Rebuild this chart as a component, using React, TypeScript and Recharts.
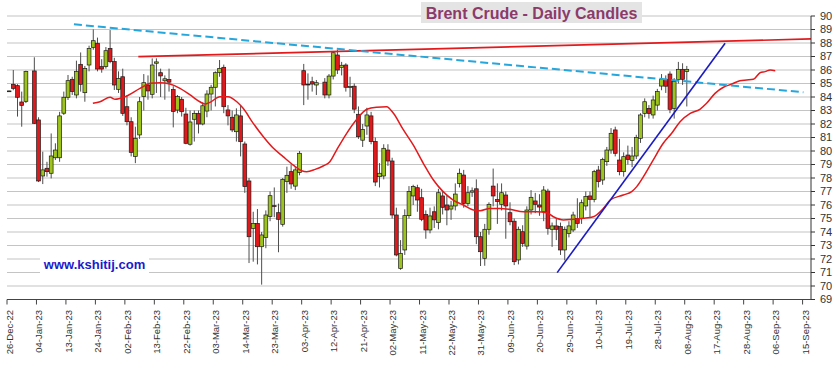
import { ComposedChart, Bar, Line, XAxis, YAxis, CartesianGrid, ReferenceLine } from 'recharts';

// tick labels, one every 7 trading days from 26-Dec-22
const dateLabels = [
    '26-Dec-22', '04-Jan-23', '13-Jan-23', '24-Jan-23', '02-Feb-23', '13-Feb-23', '22-Feb-23',
    '03-Mar-23', '14-Mar-23', '23-Mar-23', '03-Apr-23', '12-Apr-23', '21-Apr-23', '02-May-23',
    '11-May-23', '22-May-23', '31-May-23', '09-Jun-23', '20-Jun-23', '29-Jun-23', '10-Jul-23',
    '19-Jul-23', '28-Jul-23', '08-Aug-23', '17-Aug-23', '28-Aug-23', '06-Sep-23', '15-Sep-23',
];
const dateTicks = [0, 7, 14, 21, 28, 35, 42, 49, 56, 63, 70, 77, 84, 91, 98, 105, 112, 119, 126, 133, 140, 147, 154, 161, 168, 175, 182, 189];
const priceTicks = [69, 70, 71, 72, 73, 74, 75, 76, 77, 78, 79, 80, 81, 82, 83, 84, 85, 86, 87, 88, 89, 90];

// daily candles, one slot per weekday from 26-Dec-22 (null = holiday)
const opens = [
    84.45, 84.94, 84.84, 83.63, 83.68, null, 85.93, 82.3, 78.15, 78.72, 78.35, 79.5, 79.5, 82.8, 83.98, 85.31, 84.15, 86.42, 84.32, 86.37,
    87.68, 87.98, 86.25, 86.25, 87.6, 86.62, 84.57, 85.5, 83.28, 82.17, 79.6, 81.19, 84.03, 84.89, 84.2, 86.5, 85.8, 85.2, 85.3, 84.55,
    83.03, 83.83, 82.74, 80.5, 82.35, 82.79, 82.0, 82.96, 84.22, 84.72, 85.8, 86.2, 83.04, 82.5, 81.43, 82.6, 80.52, 77.78, 74.27, 74.64,
    72.91, 73.6, 75.14, 75.95, 75.43, 74.57, 77.73, 78.47, 77.4, 78.4, 85.95, 84.95, 85.13, 84.89, null, 85.1, 84.15, 85.55, 87.11, 86.2,
    86.37, 84.7, 84.8, 82.72, 80.8, 81.85, 82.6, 80.7, 78.1, 78.15, 80.07, 79.26, 75.26, 71.3, 72.67, 75.21, 76.67, 77.28, 76.54, 75.3,
    74.15, 75.5, 74.7, 76.67, 76.0, 75.7, 75.93, 77.6, 78.22, 76.12, 76.95, 77.2, 73.65, 72.05, 74.2, 77.4, 76.4, 76.05, 76.74, 75.43,
    74.8, 71.93, 74.02, 72.96, 75.63, 76.3, 76.0, 75.5, 77.03, 74.2, 74.45, 74.4, 72.67, 73.9, 74.15, 75.01, 75.0, 75.93, 76.67, 76.42,
    78.59, 77.85, 79.21, 80.07, 81.56, 79.33, 78.47, 79.7, 79.3, 79.63, 80.94, 82.79, 83.16, 82.67, 83.4, 84.81, 85.3, 85.7, 83.16, 85.3,
    86.05, 85.9,
];
const highs = [
    84.47, 86.0, 84.95, 84.4, 85.95, null, 86.94, 82.5, 79.95, 79.2, 81.3, 80.57, 82.9, 84.4, 85.63, 85.5, 86.69, 87.3, 86.3, 87.8,
    89.01, 88.4, 86.8, 87.7, 88.96, 86.9, 85.9, 86.1, 84.15, 82.5, 81.8, 84.0, 85.7, 85.6, 86.86, 86.86, 86.1, 85.6, 86.1, 84.8,
    84.15, 84.0, 83.2, 83.0, 83.0, 83.0, 83.6, 84.5, 84.9, 85.9, 86.74, 86.4, 83.4, 83.0, 83.16, 83.4, 80.7, 78.0, 75.5, 75.7,
    74.0, 75.6, 77.0, 77.3, 76.1, 78.0, 78.84, 79.0, 78.8, 80.0, 86.45, 85.75, 85.5, 85.26, null, 85.4, 85.7, 87.4, 87.5, 86.6,
    86.5, 85.5, 85.0, 83.3, 82.0, 83.2, 82.9, 81.0, 79.1, 80.5, 80.5, 79.5, 75.8, 73.4, 75.68, 77.4, 77.5, 77.5, 77.2, 75.6,
    75.8, 75.9, 77.2, 77.0, 76.7, 76.3, 77.6, 78.7, 78.6, 77.4, 77.3, 77.9, 74.0, 74.6, 76.2, 78.7, 77.6, 77.6, 77.0, 76.2,
    75.0, 74.4, 74.5, 75.9, 77.1, 76.9, 76.8, 77.4, 77.2, 74.7, 75.0, 74.7, 74.4, 74.8, 75.5, 76.5, 76.4, 77.0, 77.0, 78.6,
    78.9, 79.5, 80.3, 81.7, 81.8, 80.9, 79.9, 80.4, 80.3, 81.2, 82.8, 83.9, 83.4, 84.1, 84.6, 85.7, 85.6, 85.9, 85.4, 86.6,
    86.5, 86.3,
];
const lows = [
    84.43, 84.5, 82.55, 81.8, 83.55, null, 82.0, 77.7, 77.55, 78.1, 77.97, 79.33, 79.2, 82.67, 83.78, 84.15, 83.9, 84.4, 83.65, 85.9,
    87.5, 85.9, 85.8, 86.1, 86.5, 84.52, 84.3, 82.6, 81.9, 79.6, 79.1, 80.9, 83.0, 83.8, 83.9, 84.3, 84.0, 83.8, 84.4, 81.75,
    82.8, 82.55, 80.5, 80.4, 80.7, 81.3, 81.9, 82.5, 83.0, 83.3, 85.5, 82.8, 81.9, 81.4, 80.7, 79.6, 76.9, 71.7, 71.8, 71.6,
    70.1, 72.8, 74.8, 75.1, 72.5, 74.4, 76.9, 77.2, 77.1, 78.2, 83.4, 83.8, 84.4, 84.15, null, 83.9, 83.9, 85.3, 85.7, 85.6,
    84.4, 84.0, 82.8, 80.9, 80.3, 81.2, 80.5, 77.4, 77.3, 77.9, 78.9, 75.0, 72.2, 71.2, 72.3, 75.0, 76.0, 75.5, 74.8, 73.5,
    73.9, 74.3, 74.2, 75.3, 74.5, 74.9, 75.6, 77.3, 75.8, 75.9, 76.6, 73.1, 71.48, 71.5, 73.8, 75.9, 74.6, 75.6, 73.5, 74.5,
    71.55, 71.6, 72.9, 72.7, 75.3, 75.4, 75.2, 74.8, 73.8, 72.9, 73.4, 72.3, 71.9, 73.6, 74.0, 74.3, 74.6, 75.6, 75.1, 76.2,
    77.3, 77.5, 78.9, 79.8, 79.6, 78.2, 78.1, 79.0, 78.8, 79.4, 80.6, 82.5, 82.4, 82.4, 83.0, 84.5, 84.3, 82.8, 82.4, 85.0,
    84.9, 83.3,
];
const closes = [
    84.45, 84.64, 83.98, 83.38, 85.88, null, 82.05, 77.78, 78.6, 78.47, 79.63, 80.07, 82.6, 83.98, 85.21, 84.4, 85.88, 84.94, 86.12, 87.6,
    88.17, 86.07, 86.07, 87.43, 86.62, 84.89, 85.38, 82.79, 82.17, 79.9, 80.94, 83.65, 85.06, 84.45, 86.37, 86.6, 85.56, 85.35, 85.1, 82.93,
    84.03, 82.91, 80.57, 82.15, 82.79, 82.0, 83.35, 84.22, 84.72, 85.8, 86.12, 83.28, 82.6, 81.56, 82.67, 80.69, 77.36, 73.65, 74.64, 72.91,
    73.78, 75.26, 76.69, 75.91, 74.94, 77.9, 78.2, 77.56, 78.6, 79.83, 84.89, 84.94, 84.96, 85.06, null, 84.15, 85.55, 87.28, 86.0, 86.35,
    84.72, 84.77, 83.1, 81.06, 81.6, 82.67, 80.7, 77.7, 78.35, 80.2, 79.26, 75.26, 72.3, 72.42, 75.21, 76.99, 77.36, 76.37, 74.94, 74.15,
    75.19, 74.9, 76.91, 75.83, 75.63, 75.93, 76.81, 78.35, 76.12, 76.91, 77.05, 73.65, 72.54, 74.2, 76.05, 76.67, 76.25, 76.91, 75.93, 74.76,
    71.8, 74.2, 73.16, 75.63, 76.57, 76.05, 75.85, 77.11, 74.27, 74.45, 74.2, 72.67, 74.2, 74.45, 75.26, 74.64, 76.17, 76.62, 76.42, 78.47,
    77.73, 79.38, 80.07, 81.31, 79.83, 78.47, 79.58, 79.38, 79.63, 81.01, 82.67, 83.65, 82.79, 83.78, 84.4, 85.31, 84.8, 83.09, 85.14, 86.05,
    85.31, 86.05,
];

// moving average (slot position, price)
const maDays = [
    20.4, 22.1, 24.5, 25.7, 28.0, 31.6, 34.0, 36.3, 38.7, 41.1, 43.5, 45.8, 47.0, 48.2, 50.6, 52.5, 54.6, 56.1, 58.5, 60.9,
    63.3, 65.6, 68.0, 70.0, 71.2, 73.2, 75.1, 76.7, 78.3, 80.7, 83.1, 85.5, 87.8, 90.2, 91.8, 94.1, 96.5, 98.9, 101.3, 103.6,
    106.0, 108.4, 110.8, 112.4, 114.7, 117.1, 119.5, 122.7, 125.8, 128.2, 129.8, 132.2, 134.5, 136.9, 139.3, 141.7, 143.3, 146.4, 148.4, 149.6,
    151.2, 153.5, 155.9, 157.9, 159.9, 162.3, 164.6, 166.2, 168.2, 170.2, 172.2, 174.1, 175.7, 177.3, 178.9, 180.1, 181.3, 182.5,
];
const maValues = [
    83.53, 83.65, 83.98, 83.83, 84.02, 84.64, 85.01, 85.06, 84.96, 84.64, 84.15, 83.65, 83.48, 83.6, 84.02, 84.02, 83.65, 83.16, 82.05, 81.06,
    80.2, 79.58, 78.96, 78.54, 78.47, 78.64, 78.89, 79.2, 80.07, 81.31, 82.35, 83.09, 83.24, 83.28, 82.79, 81.6, 80.45, 79.09, 77.85, 76.99,
    76.37, 76.0, 75.63, 75.58, 75.75, 75.75, 75.68, 75.5, 75.5, 75.43, 75.13, 74.89, 74.94, 75.01, 75.13, 75.75, 76.37, 76.74, 76.99, 77.36,
    78.1, 79.33, 80.57, 81.31, 82.17, 82.79, 83.09, 83.53, 84.27, 84.72, 84.96, 85.21, 85.26, 85.31, 85.8, 85.88, 86.0, 85.95,
];

// trend lines, [slot, price] at each end
const resistanceLine = [[31.2, 86.99], [191, 88.3]];
const fallingLine = [[15.9, 89.38], [189.2, 84.35]];
const supportLine = [[130.7, 70.99], [170.6, 87.98]];

const candleData = opens
    .map((o, i) => (o == null ? null : { t: i + 0.5, open: o, high: highs[i], low: lows[i], close: closes[i] }))
    .filter(Boolean) as { t: number; open: number; high: number; low: number; close: number }[];

const maData = maDays.map((t, i) => ({ t, ma: maValues[i] }));

const seg = (pts: number[][]) => pts.map(([x, y]) => ({ x, y }));

const Candle = (props: any) => {
    const { x, y, width, height, payload } = props;
    if (!payload || payload.open == null || height == null) return null;
    const { open, high, low, close } = payload;
    const yTop = Math.min(y, y + height);
    const h = Math.abs(height);
    const unit = high > low ? h / (high - low) : 0;
    const py = (v: number) => yTop + (high - v) * unit;
    const cx = x + width / 2;
    const up = close >= open;
    const top = py(Math.max(open, close));
    const bodyH = Math.max(py(Math.min(open, close)) - top, 0.8);
    return (
        <g>
            <line x1={cx} x2={cx} y1={yTop} y2={yTop + h} stroke="#4d4d4d" strokeWidth={1} />
            <rect
                x={cx - 1.9}
                y={top}
                width={3.8}
                height={bodyH}
                fill={up ? '#9dc41c' : '#e2191c'}
                stroke="#1a1a1a"
                strokeWidth={0.7}
            />
        </g>
    );
};

const DateTick = (props: any) => {
    const { x, y, payload } = props;
    const label = dateLabels[Math.round(payload.value / 7)];
    return (
        <text
            transform={`translate(${x + 6},${y}) rotate(-90)`}
            textAnchor="end"
            fontSize={9.5}
            fill="#333"
            fontFamily="'Liberation Sans', Arial, sans-serif"
        >
            {label}
        </text>
    );
};

const App = () => {
    return (
        <div style={{ position: 'absolute', left: 0, top: 0, width: 839, height: 374, background: '#fff' }}>
            <ComposedChart
                width={839}
                height={374}
                data={candleData}
                margin={{ top: 16, right: 0, bottom: 0, left: 7 }}
            >
                <CartesianGrid horizontal vertical={false} stroke="#c4c4c4" strokeWidth={1.2} />
                <XAxis
                    dataKey="t"
                    type="number"
                    domain={[0, 191]}
                    allowDataOverflow
                    ticks={dateTicks}
                    interval={0}
                    height={74.5}
                    tickSize={5}
                    tickMargin={5.5}
                    stroke="#444"
                    tick={(p: any) => <DateTick {...p} />}
                />
                <YAxis
                    orientation="right"
                    domain={[69, 90]}
                    allowDataOverflow
                    ticks={priceTicks}
                    interval={0}
                    width={28}
                    tickSize={4}
                    tickMargin={5}
                    stroke="#333"
                    tick={{ fontSize: 11, fill: '#333', fontFamily: "'Liberation Sans', Arial, sans-serif" }}
                />
                <Bar
                    dataKey={(d: any) => [d.low, d.high]}
                    barSize={4}
                    shape={(p: any) => <Candle {...p} />}
                    isAnimationActive={false}
                />
                <Line
                    data={maData}
                    dataKey="ma"
                    type="monotone"
                    stroke="#e3191c"
                    strokeWidth={1.5}
                    dot={false}
                    activeDot={false}
                    isAnimationActive={false}
                />
                <ReferenceLine segment={seg(resistanceLine)} stroke="#e3191c" strokeWidth={1.7} ifOverflow="visible" />
                <ReferenceLine
                    segment={seg(fallingLine)}
                    stroke="#27a6dc"
                    strokeWidth={2}
                    strokeDasharray="8 4"
                    ifOverflow="visible"
                />
                <ReferenceLine segment={seg(supportLine)} stroke="#1b1bc4" strokeWidth={1.6} ifOverflow="visible" />
            </ComposedChart>
            <div
                style={{
                    position: 'absolute',
                    left: 421,
                    top: 2,
                    width: 221,
                    height: 21,
                    lineHeight: '24px',
                    overflow: 'hidden',
                    background: '#e4e4e4',
                    color: '#8b3a6a',
                    fontFamily: "'Liberation Sans', Arial, sans-serif",
                    fontWeight: 'bold',
                    fontSize: 16,
                    textAlign: 'center',
                    whiteSpace: 'nowrap',
                }}
            >
                Brent Crude - Daily Candles
            </div>
            <div
                style={{
                    position: 'absolute',
                    left: 40,
                    top: 256,
                    width: 109,
                    height: 18,
                    lineHeight: '18px',
                    background: '#fff',
                    color: '#1a1acc',
                    fontFamily: "'Liberation Sans', Arial, sans-serif",
                    fontWeight: 'bold',
                    fontSize: 13,
                    textAlign: 'center',
                    whiteSpace: 'nowrap',
                }}
            >
                www.kshitij.com
            </div>
        </div>
    );
};

export default App;
